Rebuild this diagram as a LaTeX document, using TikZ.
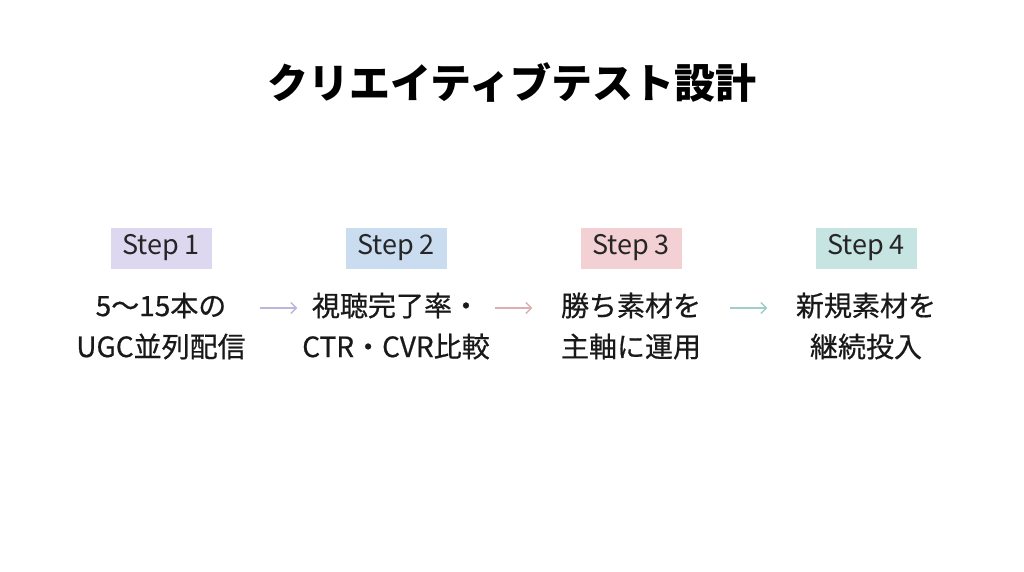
\documentclass[tikz,border=0pt]{standalone}
\usepackage{fontspec}
\setmainfont{Noto Sans CJK JP}
\newfontfamily\bodyfont{Noto Sans CJK JP}[FakeBold=0.6]
\usetikzlibrary{arrows.meta}
\definecolor{s1}{HTML}{DDD8F0}
\definecolor{s2}{HTML}{C9DCF0}
\definecolor{s3}{HTML}{F2D0D3}
\definecolor{s4}{HTML}{C6E4E2}
\definecolor{a1}{HTML}{BDB5DD}
\definecolor{a2}{HTML}{DDAEB2}
\definecolor{a3}{HTML}{9ECDCB}
\begin{document}
\begin{tikzpicture}[x=1pt,y=1pt,
  stepbox/.style={inner sep=0pt,minimum width=101pt,minimum height=41pt,font=\fontsize{27}{30}\selectfont,text=black!85},
  body/.style={inner sep=0pt,text width=195pt,align=center,font=\bodyfont\fontsize{28}{41}\selectfont,text=black!90},
  conn/.style={line width=1.3pt,-{Straight Barb[length=5.5pt,width=11pt,line width=1.3pt]},shorten <=1pt,shorten >=1pt}]
\useasboundingbox (0,0) rectangle (1024,-572);
\node[font=\fontsize{41}{45}\selectfont\bfseries] (title) at (512,-83) {クリエイティブテスト設計};
\node[stepbox,fill=s1] (st1) at (161,-248) {\raisebox{-2pt}{Step 1}};
\node[stepbox,fill=s2] (st2) at (396,-248) {\raisebox{-2pt}{Step 2}};
\node[stepbox,fill=s3] (st3) at (631,-248) {\raisebox{-2pt}{Step 3}};
\node[stepbox,fill=s4] (st4) at (866,-248) {\raisebox{-2pt}{Step 4}};
\node[body] (b1) at (161,-326) {5〜15本の\\UGC並列配信};
\node[body] (b2) at (396,-326) {視聴完了率・\\CTR・CVR比較};
\node[body] (b3) at (631,-326) {勝ち素材を\\主軸に運用};
\node[body] (b4) at (866,-326) {新規素材を\\継続投入};
\draw[conn,a1] ([yshift=18pt]b1.east) -- ([yshift=18pt]b2.west);
\draw[conn,a2] ([yshift=18pt]b2.east) -- ([yshift=18pt]b3.west);
\draw[conn,a3] ([yshift=18pt]b3.east) -- ([yshift=18pt]b4.west);
\end{tikzpicture}
\end{document}
